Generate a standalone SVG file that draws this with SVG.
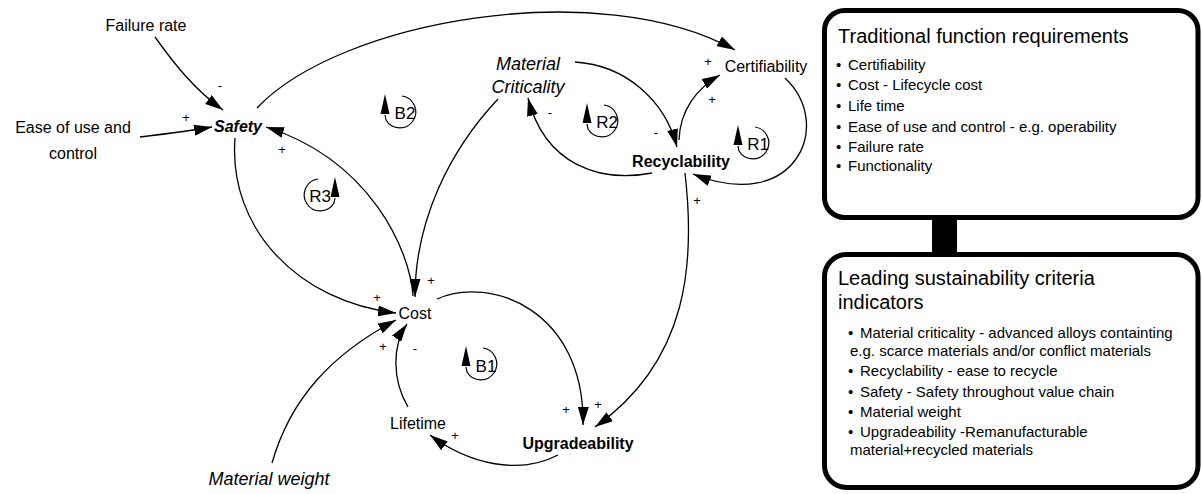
<svg xmlns="http://www.w3.org/2000/svg" xmlns:xlink="http://www.w3.org/1999/xlink" width="1202" height="494" viewBox="0 0 1202 494">
<style>
text{font-family:"Liberation Sans",Arial,sans-serif;fill:#000}
.lbl{font-size:16px;text-anchor:middle}
.b{font-weight:bold}
.it{font-style:italic;font-size:18px}
.pm{font-size:13px;text-anchor:middle}
.loop{font-size:17px;text-anchor:middle}
.link{fill:none;stroke:#000;stroke-width:1.3;marker-end:url(#ah)}
.box{fill:#fff;stroke:#000;stroke-width:5}
.bt{font-size:20px}
.bl{font-size:15px}
</style>
<defs>
<marker id="ah" markerUnits="userSpaceOnUse" markerWidth="18" markerHeight="11" refX="18" refY="5.5" orient="auto" viewBox="0 0 18 11">
<path d="M0,0 L18,5.5 L0,11 z" fill="#000"/>
</marker>
<g id="loopL">
<path d="M2,-16 A16,16 0 1 1 -14,8 L-15,3" fill="none" stroke="#000" stroke-width="1.2"/>
<polygon points="-15,-18 -19.5,2 -10.5,2" fill="#000"/>
</g>
<g id="loopR" transform="scale(-1,1)">
<use xlink:href="#loopL"/>
</g>
</defs>

<g id="connectors">
<path class="link" d="M155,37 C175,65 195,90 223,110"/>
<path class="link" d="M140,137 C165,134 190,131 212,127"/>
<path class="link" d="M257,108 C340,20 600,-25 735,50"/>
<path class="link" d="M235,138 C228,230 300,302 396,313"/>
<path class="link" d="M413,296 C410,250 370,160 266,127"/>
<path class="link" d="M498,99 C450,150 415,220 415,297"/>
<path class="link" d="M437,299 C490,275 585,310 583,425"/>
<path class="link" d="M685,173 C695,260 690,360 595,427"/>
<path class="link" d="M558,455 C520,475 470,465 430,435"/>
<path class="link" d="M408,407 C392,380 392,345 407,324"/>
<path class="link" d="M272,463 C290,400 330,355 396,320"/>
<path class="link" d="M575,62 C625,65 665,100 677,147"/>
<path class="link" d="M652,173 C600,183 545,165 528,98"/>
<path class="link" d="M679,140 C680,110 697,88 720,75"/>
<path class="link" d="M785,78 C835,125 795,215 693,174"/>
</g>

<g id="polarities">
<text class="pm" x="220" y="90">-</text>
<text class="pm" x="186" y="122">+</text>
<text class="pm" x="282" y="154">+</text>
<text class="pm" x="377" y="302">+</text>
<text class="pm" x="431" y="285">+</text>
<text class="pm" x="383" y="351">+</text>
<text class="pm" x="415" y="353">-</text>
<text class="pm" x="455" y="440">+</text>
<text class="pm" x="566" y="414">+</text>
<text class="pm" x="598" y="409">+</text>
<text class="pm" x="697" y="205">+</text>
<text class="pm" x="712" y="104">+</text>
<text class="pm" x="708" y="66">+</text>
<text class="pm" x="550" y="117">-</text>
<text class="pm" x="656" y="137">-</text>
</g>

<g id="loops">
<use xlink:href="#loopL" x="400" y="112"/>
<text class="loop" x="405" y="119">B2</text>
<use xlink:href="#loopL" x="602" y="121"/>
<text class="loop" x="607" y="128">R2</text>
<use xlink:href="#loopL" x="753" y="143"/>
<text class="loop" x="758" y="150">R1</text>
<use xlink:href="#loopR" transform="translate(320,195)"/>
<text class="loop" x="320" y="202">R3</text>
<use xlink:href="#loopL" x="481" y="364"/>
<text class="loop" x="486" y="372">B1</text>
</g>

<g id="node-failure-rate"><text class="lbl" x="146" y="31">Failure rate</text></g>
<g id="node-ease"><text class="lbl" x="73" y="133">Ease of use and</text><text class="lbl" x="73" y="159">control</text></g>
<g id="node-safety"><text class="lbl b" x="238" y="132" font-style="italic">Safety</text></g>
<g id="node-material-criticality"><text class="lbl it" x="528" y="70">Material</text><text class="lbl it" x="528" y="93">Criticality</text></g>
<g id="node-certifiability"><text class="lbl" x="766" y="72">Certifiability</text></g>
<g id="node-recyclability"><text class="lbl b" x="681" y="167">Recyclability</text></g>
<g id="node-cost"><text class="lbl" x="415" y="319">Cost</text></g>
<g id="node-lifetime"><text class="lbl" x="418" y="429">Lifetime</text></g>
<g id="node-upgradeability"><text class="lbl b" x="578" y="449">Upgradeability</text></g>
<g id="node-material-weight"><text class="lbl it" x="269" y="485">Material weight</text></g>

<g id="panel-traditional">
<rect class="box" x="824.5" y="10.5" width="373.5" height="207" rx="20"/>
<text class="bt" x="838" y="43">Traditional function requirements</text>
<text class="bl" x="836" y="70">•</text><text class="bl" x="848" y="70">Certifiability</text>
<text class="bl" x="836" y="90">•</text><text class="bl" x="848" y="90">Cost - Lifecycle cost</text>
<text class="bl" x="836" y="111">•</text><text class="bl" x="848" y="111">Life time</text>
<text class="bl" x="836" y="132">•</text><text class="bl" x="848" y="132">Ease of use and control - e.g. operability</text>
<text class="bl" x="836" y="152">•</text><text class="bl" x="848" y="152">Failure rate</text>
<text class="bl" x="836" y="171">•</text><text class="bl" x="848" y="171">Functionality</text>
</g>
<rect id="panel-link" x="932" y="216" width="25" height="40" fill="#000"/>
<g id="panel-sustainability">
<rect class="box" x="824.5" y="254.5" width="373.5" height="233" rx="22"/>
<text class="bt" x="838" y="285">Leading sustainability criteria</text>
<text class="bt" x="838" y="309">indicators</text>
<text class="bl" x="848" y="338">•</text><text class="bl" x="860" y="338">Material criticality - advanced alloys containting</text>
<text class="bl" x="850" y="356">e.g. scarce materials and/or conflict materials</text>
<text class="bl" x="848" y="376">•</text><text class="bl" x="860" y="376">Recyclability - ease to recycle</text>
<text class="bl" x="848" y="397">•</text><text class="bl" x="860" y="397">Safety - Safety throughout value chain</text>
<text class="bl" x="848" y="417">•</text><text class="bl" x="860" y="417">Material weight</text>
<text class="bl" x="848" y="437">•</text><text class="bl" x="860" y="437">Upgradeability -Remanufacturable</text>
<text class="bl" x="850" y="455">material+recycled materials</text>
</g>
</svg>
